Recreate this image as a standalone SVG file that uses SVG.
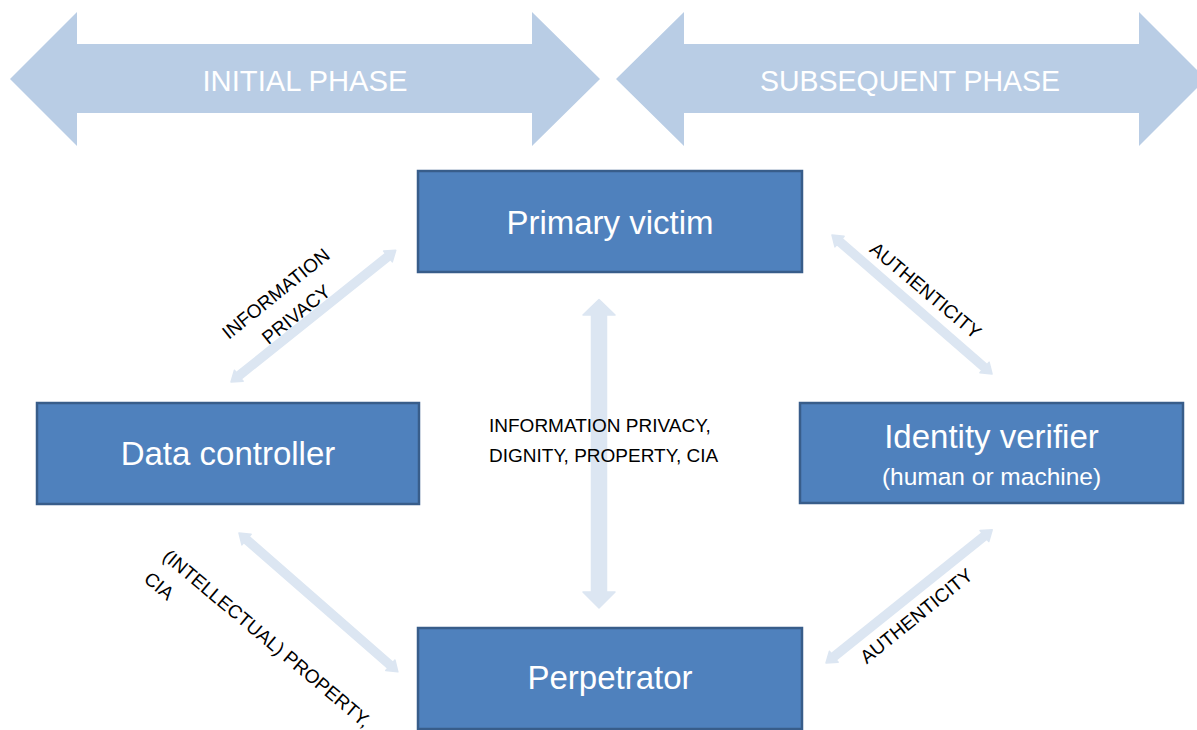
<svg xmlns="http://www.w3.org/2000/svg" width="1197" height="730" viewBox="0 0 1197 730">
  <style>
    .phase { fill: #B9CDE5; }
    .phase-text { fill: #FFFFFF; font-family: "Liberation Sans", Arial, sans-serif; font-size: 30px; text-anchor: middle; }
    .box { fill: #4F81BD; stroke: #385D8A; stroke-width: 2.5; }
    .box-text { fill: #FFFFFF; font-family: "Liberation Sans", Arial, sans-serif; font-size: 33px; text-anchor: middle; }
    .box-sub { fill: #FFFFFF; font-family: "Liberation Sans", Arial, sans-serif; font-size: 24.5px; text-anchor: middle; }
    .conn { fill: #DCE6F2; stroke: #DCE6F2; stroke-width: 1.5; stroke-linejoin: round; }
    .label { fill: #000000; font-family: "Liberation Sans", Arial, sans-serif; font-size: 19px; }
  </style>

  <g id="phase-initial">
    <polygon class="phase" points="10,79 77,12 77,44 532,44 532,12 600,79 532,146 532,113 77,113 77,146"/>
    <text class="phase-text" x="305" y="91" textLength="205" lengthAdjust="spacingAndGlyphs">INITIAL PHASE</text>
  </g>
  <g id="phase-subsequent">
    <polygon class="phase" points="616,79 684,12 684,44 1139,44 1139,12 1206,79 1139,146 1139,113 684,113 684,146"/>
    <text class="phase-text" x="910" y="91" textLength="300" lengthAdjust="spacingAndGlyphs">SUBSEQUENT PHASE</text>
  </g>

  <g id="connectors">
    <!-- Data controller <-> Primary victim -->
    <g id="conn-dc-pv" transform="translate(231,382) rotate(-38.66)">
      <path class="conn" d="M0,0 L10,-7 L10,-4 L201,-4 L201,-7 L211,0 L201,7 L201,4 L10,4 L10,7 Z"/>
    </g>
    <!-- Primary victim <-> Identity verifier -->
    <g id="conn-pv-iv" transform="translate(832,235) rotate(40.98)">
      <path class="conn" d="M0,0 L10,-7 L10,-4 L202,-4 L202,-7 L212,0 L202,7 L202,4 L10,4 L10,7 Z"/>
    </g>
    <!-- Data controller <-> Perpetrator -->
    <g id="conn-dc-pe" transform="translate(239,533) rotate(41.16)">
      <path class="conn" d="M0,0 L10,-7 L10,-4 L201,-4 L201,-7 L211,0 L201,7 L201,4 L10,4 L10,7 Z"/>
    </g>
    <!-- Perpetrator <-> Identity verifier -->
    <g id="conn-pe-iv" transform="translate(826,663) rotate(-38.7)">
      <path class="conn" d="M0,0 L10,-7 L10,-4 L203,-4 L203,-7 L213,0 L203,7 L203,4 L10,4 L10,7 Z"/>
    </g>
    <!-- Primary victim <-> Perpetrator -->
    <g id="conn-pv-pe">
      <path class="conn" d="M599,299.5 L615,315 L606.5,315 L606.5,592 L615,592 L599,608 L583,592 L591.5,592 L591.5,315 L583,315 Z"/>
    </g>
  </g>

  <g id="labels">
    <text class="label" text-anchor="middle" transform="translate(282,297) rotate(-39)">
      <tspan x="0" y="0">INFORMATION</tspan>
      <tspan x="0" y="29">PRIVACY</tspan>
    </text>
    <text class="label" text-anchor="middle" transform="translate(921.5,295.5) rotate(40)">AUTHENTICITY</text>
    <text class="label" text-anchor="middle" transform="translate(920.5,621) rotate(-39)">AUTHENTICITY</text>
    <text class="label" transform="translate(161.5,558.5) rotate(40)">
      <tspan x="0" y="0">(INTELLECTUAL) PROPERTY,</tspan>
      <tspan x="0" y="29">CIA</tspan>
    </text>
    <text class="label">
      <tspan x="489" y="432">INFORMATION PRIVACY,</tspan>
      <tspan x="489" y="461.5">DIGNITY, PROPERTY, CIA</tspan>
    </text>
  </g>

  <g id="node-primary-victim">
    <rect class="box" x="418" y="171" width="384" height="101"/>
    <text class="box-text" x="610" y="234">Primary victim</text>
  </g>
  <g id="node-data-controller">
    <rect class="box" x="37" y="403" width="382" height="101"/>
    <text class="box-text" x="228" y="465">Data controller</text>
  </g>
  <g id="node-identity-verifier">
    <rect class="box" x="800" y="403" width="383" height="100"/>
    <text class="box-text" x="991.5" y="448">Identity verifier</text>
    <text class="box-sub" x="991.5" y="485">(human or machine)</text>
  </g>
  <g id="node-perpetrator">
    <rect class="box" x="418" y="628" width="384" height="101"/>
    <text class="box-text" x="610" y="689">Perpetrator</text>
  </g>
</svg>
